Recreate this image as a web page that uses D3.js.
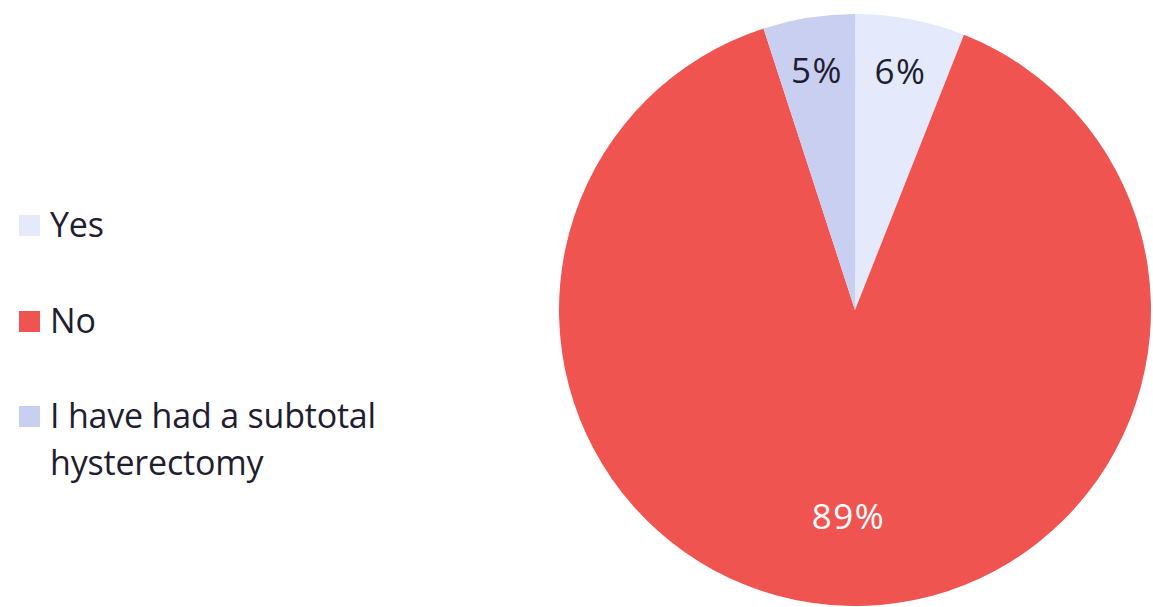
<!DOCTYPE html>
<html>
<head>
<meta charset="utf-8">
<script src="https://cdn.jsdelivr.net/npm/d3@7"></script>
<style>
  body { margin: 0; background: #fff; }
  svg { display: block; font-family: "Open Sans", sans-serif; }
</style>
</head>
<body>
<svg width="1153" height="607"></svg>
<script>
// answers, in the order the slices run clockwise from 12 o'clock
const answers = ['Yes', 'No', 'I have had a subtotal hysterectomy']
const shares = [6, 89, 5]
const colours = ['#e4eafb', '#ef5450', '#c9cff0']

const svg = d3.select('svg')
const cx = 855, cy = 310, radius = 296

const color = d3.scaleOrdinal().domain(answers).range(colours)

const pie = d3.pie().sort(null).value(d => d.value)
const arcs = pie(answers.map((a, i) => ({ name: a, value: shares[i] })))

const arc = d3.arc().innerRadius(0).outerRadius(radius)

const g = svg.append('g').attr('transform', `translate(${cx},${cy})`)

g.selectAll('path')
  .data(arcs)
  .enter()
  .append('path')
  .attr('d', arc)
  .attr('fill', d => color(d.data.name))

// small slices get their labels further out
const labelArc = d => {
  const r = d.data.value < 10 ? radius * 0.82 : radius * 0.7
  return d3.arc().innerRadius(r).outerRadius(r).centroid(d)
}

g.selectAll('text')
  .data(arcs)
  .enter()
  .append('text')
  .attr('transform', d => `translate(${labelArc(d)})`)
  .attr('text-anchor', 'middle')
  .attr('dy', '0.35em')
  .attr('font-size', 35)
  .attr('letter-spacing', 1.5)
  .attr('fill', d => d.data.value > 50 ? '#fff' : '#1f1d30')
  .text(d => `${d.data.value}%`)

// legend
const legendRows = [
  { lines: ['Yes'], y: 237 },
  { lines: ['No'], y: 333 },
  { lines: ['I have had a subtotal', 'hysterectomy'], y: 428 }
]

const legend = svg.append('g')
legendRows.forEach((row, i) => {
  legend.append('rect')
    .attr('x', 19)
    .attr('y', row.y - 22)
    .attr('width', 21)
    .attr('height', 21)
    .attr('fill', colours[i])
  const t = legend.append('text')
    .attr('x', 50)
    .attr('y', row.y)
    .attr('font-size', 34)
    .attr('letter-spacing', -0.2)
    .attr('fill', '#1f1d30')
  row.lines.forEach((l, j) => {
    t.append('tspan').attr('x', 50).attr('dy', j ? 47 : 0).text(l)
  })
})
</script>
</body>
</html>
